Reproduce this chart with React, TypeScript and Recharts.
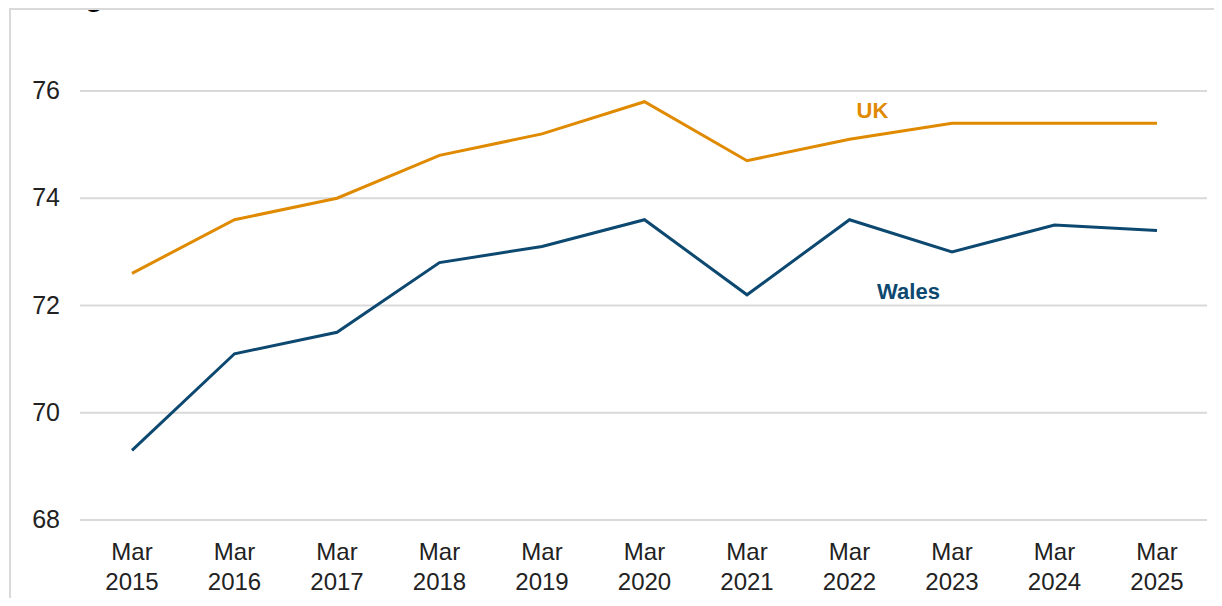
import React from "react";
import { LineChart, Line, XAxis, YAxis, CartesianGrid, LabelList, Customized } from "recharts";

const categories = [
  "Mar 2015",
  "Mar 2016",
  "Mar 2017",
  "Mar 2018",
  "Mar 2019",
  "Mar 2020",
  "Mar 2021",
  "Mar 2022",
  "Mar 2023",
  "Mar 2024",
  "Mar 2025",
];
const ukValues = [72.6, 73.6, 74.0, 74.8, 75.2, 75.8, 74.7, 75.1, 75.4, 75.4, 75.4];
const walesValues = [69.3, 71.1, 71.5, 72.8, 73.1, 73.6, 72.2, 73.6, 73.0, 73.5, 73.4];
const yTicks = [68, 70, 72, 74, 76];
const title = "ending March 2015 to March 2025";

const UK_COLOR = "#DF8A00";
const WALES_COLOR = "#0C4870";
const FONT = "'Liberation Sans', Arial, sans-serif";

const data = categories.map((c, i) => ({ name: c, UK: ukValues[i], Wales: walesValues[i] }));

function XTick({ x, y, payload }: any) {
  const [m, yr] = String(payload.value).split(" ");
  return (
    <text x={x} y={y} textAnchor="middle" fontSize={24} fill="#222" fontFamily={FONT}>
      <tspan x={x} dy={32}>{m}</tspan>
      <tspan x={x} dy={30}>{yr}</tspan>
    </text>
  );
}

function YTick({ x, y, payload }: any) {
  return (
    <text x={x - 12} y={y} dy={8} textAnchor="end" fontSize={25} fill="#222" fontFamily={FONT}>
      {payload.value}
    </text>
  );
}

// series name drawn next to the Mar 2022 point
function seriesLabel(text: string, color: string, dx: number, dy: number) {
  return (props: any) => {
    if (props.index !== 7) return null;
    return (
      <text
        x={props.x + dx}
        y={props.y + dy}
        textAnchor="middle"
        fontSize={22}
        fontWeight="bold"
        fill={color}
        fontFamily={FONT}
      >
        {text}
      </text>
    );
  };
}

// title sits above the frame, mostly cut off by the top edge
function TitleAndFrame() {
  return (
    <g>
      <text x={8} y={6} fontFamily={FONT} fontWeight="bold" fontSize={29} fill="#000">
        {title}
      </text>
      <rect x={10} y={9} width={1230} height={620} fill="none" stroke="#D9D9D9" strokeWidth={2} />
    </g>
  );
}

export default function App() {
  return (
    <div style={{ position: "relative", width: 1222, height: 606, margin: -8, overflow: "hidden", background: "#fff" }}>
      <LineChart width={1222} height={606} data={data} margin={{ top: 91, right: 15, bottom: 0, left: 20 }}>
        <Customized component={<TitleAndFrame />} />
        <CartesianGrid vertical={false} stroke="#D9D9D9" strokeWidth={2} />
        <XAxis
          dataKey="name"
          axisLine={false}
          tickLine={false}
          height={86}
          interval={0}
          padding={{ left: 52, right: 50 }}
          tick={<XTick />}
        />
        <YAxis
          domain={[68, 76]}
          ticks={yTicks}
          axisLine={false}
          tickLine={false}
          width={60}
          tick={<YTick />}
        />
        <Line
          dataKey="UK"
          stroke={UK_COLOR}
          strokeWidth={3}
          dot={false}
          isAnimationActive={false}
        >
          <LabelList dataKey="UK" content={seriesLabel("UK", UK_COLOR, 23, -21)} />
        </Line>
        <Line
          dataKey="Wales"
          stroke={WALES_COLOR}
          strokeWidth={3}
          dot={false}
          isAnimationActive={false}
        >
          <LabelList dataKey="Wales" content={seriesLabel("Wales", WALES_COLOR, 59, 79)} />
        </Line>
      </LineChart>
    </div>
  );
}
